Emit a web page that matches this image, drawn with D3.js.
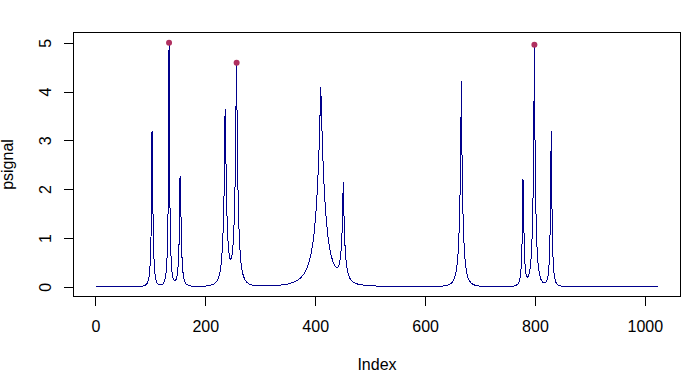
<!DOCTYPE html>
<html>
<head>
<meta charset="utf-8">
<script src="https://cdn.jsdelivr.net/npm/d3@7"></script>
<style>
  html, body { margin: 0; padding: 0; background: #fff; }
  svg { display: block; }
  text { font-family: "Liberation Sans", Arial, sans-serif; font-size: 16px; fill: #000; }
</style>
</head>
<body>
<svg id="chart" width="696" height="382"></svg>
<script>
// ---- data ----
const sampleIndex = [1,40,60,70,80,85,90,93,95,97,98,99,100,101,102,103,104,105,106,107,108,110,112,115,118,120,123,125,127,128,129,130,131,132,133,134,135,136,137,138,139,140,141,142,143,144,145,146,147,148,149,150,151,152,153,154,155,156,157,158,159,160,162,164,166,170,175,180,190,200,205,210,215,218,220,222,224,226,227,228,229,230,231,232,233,234,235,236,237,238,239,240,241,242,243,244,245,246,247,248,249,250,251,252,253,254,255,256,257,258,259,260,261,262,263,264,265,266,268,270,273,276,280,285,290,300,310,320,330,340,350,360,370,375,380,385,390,393,396,398,400,402,404,405,406,407,408,409,410,411,412,413,414,415,416,418,420,423,426,429,432,435,437,439,441,443,444,445,446,447,448,449,450,451,452,453,454,455,456,458,460,463,466,470,475,480,490,500,515,530,550,570,590,600,610,620,630,635,640,643,646,648,650,652,654,655,656,657,658,659,660,661,662,663,664,665,666,667,668,669,670,671,672,673,674,675,676,678,680,683,686,690,695,700,710,720,730,740,750,755,760,763,766,768,770,771,772,773,774,775,776,777,778,779,780,781,782,783,784,785,786,787,788,789,790,791,792,793,794,795,796,797,798,799,800,801,802,803,804,805,806,808,810,812,814,816,818,819,820,821,822,823,824,825,826,827,828,829,830,831,832,833,834,835,836,838,840,843,846,850,860,880,920,1024];
const psignal = [0,0.0002,0.0008,0.0015,0.0045,0.0096,0.0245,0.05,0.086,0.163,0.235,0.35,0.548,0.91,1.62,3.19,2.40,1.275,0.737,0.457,0.299,0.146,0.082,0.045,0.036,0.039,0.060,0.094,0.166,0.231,0.334,0.504,0.797,1.345,2.457,5.01,2.46,1.35,0.804,0.513,0.347,0.249,0.189,0.152,0.132,0.123,0.124,0.135,0.158,0.196,0.258,0.357,0.519,0.796,1.296,2.27,2.14,1.226,0.753,0.489,0.331,0.232,0.125,0.073,0.047,0.0224,0.0117,0.008,0.0075,0.0128,0.020,0.031,0.053,0.077,0.101,0.136,0.188,0.268,0.324,0.397,0.492,0.617,0.786,1.02,1.348,1.823,2.532,3.637,3.126,2.234,1.651,1.263,0.999,0.82,0.698,0.619,0.575,0.56,0.572,0.611,0.682,0.792,0.953,1.184,1.517,2.001,2.722,3.823,4.59,3.198,2.298,1.695,1.278,0.984,0.770,0.612,0.492,0.402,0.276,0.197,0.125,0.085,0.054,0.035,0.025,0.018,0.017,0.020,0.026,0.037,0.055,0.088,0.148,0.198,0.272,0.383,0.557,0.709,0.919,1.102,1.335,1.63,2.013,2.246,2.514,2.824,3.184,3.603,4.096,3.793,3.349,2.966,2.638,2.354,2.107,1.704,1.394,1.052,0.813,0.642,0.522,0.441,0.407,0.390,0.395,0.433,0.470,0.526,0.607,0.725,0.898,1.155,1.547,2.148,1.645,1.197,0.900,0.695,0.550,0.367,0.261,0.173,0.125,0.088,0.062,0.046,0.029,0.020,0.012,0.008,0.005,0.0034,0.0029,0.003,0.0038,0.0059,0.0113,0.0172,0.0282,0.0394,0.0571,0.0748,0.100,0.137,0.193,0.232,0.282,0.345,0.427,0.535,0.680,0.876,1.149,1.538,2.105,2.961,4.217,2.909,2.071,1.515,1.132,0.864,0.670,0.528,0.422,0.341,0.279,0.191,0.136,0.085,0.056,0.034,0.020,0.0125,0.0057,0.0033,0.0024,0.0027,0.0046,0.0069,0.012,0.018,0.031,0.046,0.074,0.098,0.133,0.185,0.270,0.411,0.662,1.150,2.198,2.141,1.137,0.674,0.440,0.314,0.247,0.212,0.198,0.201,0.217,0.248,0.294,0.360,0.455,0.589,0.783,1.070,1.504,2.186,3.308,4.96,3.140,2.084,1.437,1.024,0.750,0.562,0.430,0.266,0.176,0.124,0.095,0.080,0.079,0.083,0.092,0.108,0.133,0.173,0.235,0.336,0.507,0.813,1.401,2.650,3.186,1.635,0.924,0.562,0.362,0.244,0.171,0.092,0.054,0.028,0.016,0.0088,0.003,0.0008,0.0002,0];
const peakIndex = [134, 257, 799];
const peakValue = [5.0, 4.59, 4.96];
const xTicks = [0, 200, 400, 600, 800, 1000];
const yTicks = [0, 1, 2, 3, 4, 5];
const xTitle = "Index";
const yTitle = "psignal";
const nPoints = 1024;

// ---- layout ----
const box = { left: 73.5, right: 680.5, top: 32.5, bottom: 296.5 };
const tickLen = 9.6;

const svg = d3.select("#chart");
svg.append("rect").attr("width", 696).attr("height", 382).attr("fill", "#fff");

// R-style 4% extension of the data range
const xr = [1, nPoints];
const xPad = (xr[1] - xr[0]) * 0.04;
const x = d3.scaleLinear().domain([xr[0] - xPad, xr[1] + xPad]).range([box.left, box.right]);
const yr = d3.extent(psignal);
const yPad = (yr[1] - yr[0]) * 0.04;
const y = d3.scaleLinear().domain([yr[0] - yPad, yr[1] + yPad]).range([box.bottom, box.top]);

const data = sampleIndex.map((d, i) => ({ i: d, v: psignal[i] }));

// line
svg.append("path")
  .datum(data)
  .attr("fill", "none")
  .attr("stroke", "#00008b")
  .attr("stroke-width", 1)
  .attr("shape-rendering", "crispEdges")
  .attr("d", d3.line().x(d => x(d.i)).y(d => y(d.v)));

// peak markers
svg.selectAll("circle.peak")
  .data(peakIndex.map((d, i) => ({ i: d, v: peakValue[i] })))
  .enter().append("circle")
  .attr("class", "peak")
  .attr("cx", d => x(d.i))
  .attr("cy", d => y(d.v))
  .attr("r", 3)
  .attr("fill", "#b03060");

// x axis
const gx = svg.append("g")
  .attr("transform", `translate(0,${box.bottom})`)
  .call(d3.axisBottom(x).tickValues(xTicks).tickSize(tickLen).tickPadding(14.6).tickFormat(d3.format("d")));
gx.select(".domain").remove();
gx.selectAll(".tick line").attr("stroke", "#000").attr("shape-rendering", "crispEdges");
gx.selectAll(".tick text").style("font-size", "16px").attr("fill", "#000")
  .style("font-family", '"Liberation Sans", Arial, sans-serif');

// y axis
const gy = svg.append("g")
  .attr("transform", `translate(${box.left},0)`)
  .call(d3.axisLeft(y).tickValues(yTicks).tickSize(tickLen).tickFormat(d3.format("d")));
gy.select(".domain").remove();
gy.selectAll(".tick line").attr("stroke", "#000").attr("shape-rendering", "crispEdges");
gy.selectAll(".tick text")
  .attr("x", null).attr("dy", null)
  .attr("text-anchor", "middle")
  .attr("transform", `translate(${50.7 - box.left},0) rotate(-90)`)
  .style("font-size", "16px").attr("fill", "#000")
  .style("font-family", '"Liberation Sans", Arial, sans-serif');

// box
svg.append("rect")
  .attr("x", box.left).attr("y", box.top)
  .attr("width", box.right - box.left).attr("height", box.bottom - box.top)
  .attr("fill", "none").attr("stroke", "#000").attr("stroke-width", 1)
  .attr("shape-rendering", "crispEdges");

// titles
svg.append("text")
  .attr("x", (box.left + box.right) / 2).attr("y", 369.5)
  .attr("text-anchor", "middle").text(xTitle);
svg.append("text")
  .attr("transform", `translate(13,${(box.top + box.bottom) / 2}) rotate(-90)`)
  .attr("text-anchor", "middle").text(yTitle);
</script>
</body>
</html>
